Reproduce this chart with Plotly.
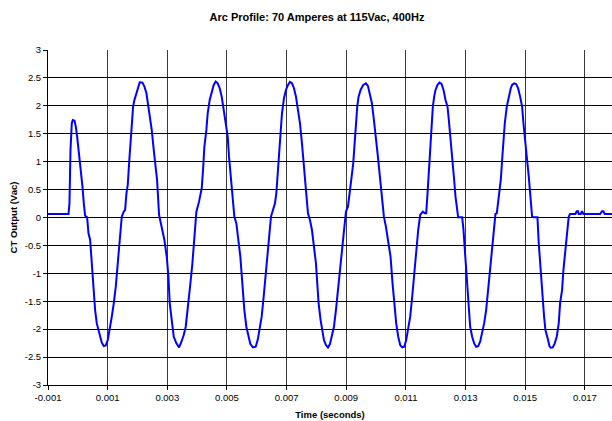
import plotly.graph_objects as go

# Time (seconds)
time_s = [
    -0.001000, -0.000313, -0.000280, -0.000246, -0.000202, -0.000168, -0.000112, -0.000068, -0.000023,
    0.000044, 0.000100, 0.000156, 0.000200, 0.000245, 0.000312, 0.000357, 0.000413, 0.000468, 0.000524,
    0.000580, 0.000636, 0.000714, 0.000803, 0.000870, 0.000937, 0.001004, 0.001071, 0.001138, 0.001205,
    0.001272, 0.001339, 0.001406, 0.001473, 0.001540, 0.001585, 0.001630, 0.001674, 0.001719, 0.001764,
    0.001808, 0.001853, 0.001898, 0.001965, 0.002032, 0.002076, 0.002166, 0.002233, 0.002300, 0.002344,
    0.002411, 0.002478, 0.002545, 0.002590, 0.002657, 0.002724, 0.002813, 0.002903, 0.002981, 0.003037,
    0.003082, 0.003149, 0.003216, 0.003305, 0.003394, 0.003461, 0.003551, 0.003618, 0.003685, 0.003774,
    0.003841, 0.003908, 0.003975, 0.004064, 0.004154, 0.004198, 0.004243, 0.004310, 0.004354, 0.004422,
    0.004489, 0.004556, 0.004623, 0.004690, 0.004757, 0.004824, 0.004891, 0.004958, 0.005025, 0.005069,
    0.005136, 0.005203, 0.005248, 0.005315, 0.005382, 0.005449, 0.005516, 0.005583, 0.005650, 0.005717,
    0.005784, 0.005873, 0.005963, 0.006030, 0.006097, 0.006164, 0.006231, 0.006298, 0.006365, 0.006432,
    0.006476, 0.006543, 0.006610, 0.006655, 0.006699, 0.006744, 0.006789,
    0.006845, 0.006912, 0.006979, 0.007046, 0.007113, 0.007180, 0.007247, 0.007314, 0.007381, 0.007448,
    0.007515, 0.007582, 0.007649, 0.007716, 0.007783, 0.007850, 0.007917, 0.007984, 0.008028, 0.008073,
    0.008140, 0.008185, 0.008252, 0.008319, 0.008386, 0.008453, 0.008520, 0.008587, 0.008654, 0.008721,
    0.008788, 0.008855, 0.008922, 0.008989, 0.009056, 0.009101, 0.009167, 0.009234, 0.009279, 0.009324,
    0.009368, 0.009413, 0.009480, 0.009570, 0.009659, 0.009726, 0.009793, 0.009860, 0.009927, 0.009994,
    0.010061, 0.010128, 0.010195, 0.010262, 0.010329, 0.010418, 0.010485, 0.010552, 0.010641,
    0.010675, 0.010742, 0.010809, 0.010876, 0.010943, 0.011010, 0.011077, 0.011144, 0.011211, 0.011278,
    0.011345, 0.011412, 0.011479, 0.011524, 0.011568, 0.011635, 0.011680, 0.011725, 0.011769, 0.011814,
    0.011859, 0.011903, 0.011948, 0.011993, 0.012060, 0.012127, 0.012194, 0.012261, 0.012328, 0.012395,
    0.012439, 0.012484, 0.012529, 0.012573, 0.012618, 0.012663, 0.012707, 0.012752, 0.012886, 0.012931,
    0.012976, 0.013020, 0.013065, 0.013110, 0.013154, 0.013221, 0.013288, 0.013355, 0.013422, 0.013489,
    0.013556, 0.013623, 0.013690, 0.013757, 0.013824, 0.013891, 0.013958, 0.014003, 0.014047, 0.014092,
    0.014137, 0.014181, 0.014226, 0.014271, 0.014315, 0.014382, 0.014449, 0.014494,
    0.014516, 0.014561, 0.014628, 0.014695, 0.014762, 0.014829, 0.014896, 0.014941, 0.015008, 0.015052,
    0.015119, 0.015164, 0.015231, 0.015276, 0.015410, 0.015454, 0.015499, 0.015544, 0.015588, 0.015633,
    0.015678, 0.015722, 0.015767, 0.015812, 0.015856, 0.015923, 0.015990, 0.016057, 0.016124, 0.016169,
    0.016236, 0.016281, 0.016348, 0.016392, 0.016459, 0.016504, 0.016683, 0.016727, 0.016772, 0.016794,
    0.016861, 0.016906, 0.016951, 0.017509, 0.017576, 0.017621, 0.017665, 0.018000,
]

# CT output (Vac)
ct_output_vac = [
    0.063, 0.063, 0.254, 1.210, 1.688, 1.747, 1.735, 1.628, 1.449,
    1.150, 0.911, 0.553, 0.254, 0.033, 0.003, -0.284, -0.403, -0.821, -1.239,
    -1.658, -1.897, -2.076, -2.243, -2.303, -2.291, -2.195, -2.016, -1.777, -1.538,
    -1.239, -0.821, -0.343, 0.015, 0.105, 0.134, 0.433, 0.582, 0.971, 1.329,
    1.688, 1.986, 2.106, 2.225, 2.357, 2.422, 2.416, 2.345, 2.225, 2.076,
    1.867, 1.568, 1.210, 0.971, 0.672, 0.045, -0.164, -0.403, -0.702, -1.060,
    -1.538, -1.897, -2.136, -2.255, -2.327, -2.243, -2.106, -1.956, -1.658, -1.180,
    -0.821, -0.343, 0.105, 0.284, 0.523, 0.851, 1.269, 1.568, 1.867, 2.106,
    2.225, 2.375, 2.434, 2.404, 2.315, 2.165, 1.927, 1.688, 1.449, 1.090,
    0.732, 0.254, 0.015, -0.105, -0.403, -0.702, -1.180, -1.658, -1.956, -2.136,
    -2.267, -2.327, -2.315, -2.195, -2.016, -1.777, -1.419, -1.001, -0.583, -0.164,
    0.015, 0.134, 0.254, 0.433, 0.792, 1.150, 1.478,
    1.867, 2.136, 2.285, 2.375, 2.428, 2.404, 2.315, 2.165, 1.927, 1.688,
    1.329, 0.911, 0.553, 0.075, -0.045, -0.224, -0.523, -0.821, -1.180, -1.538,
    -1.837, -2.016, -2.195, -2.285, -2.327, -2.267, -2.136, -1.956, -1.658, -1.299,
    -0.941, -0.583, -0.224, 0.105, 0.194, 0.433, 0.672, 0.971, 1.329, 1.688,
    1.986, 2.165, 2.285, 2.375, 2.404, 2.357, 2.225, 2.046, 1.747, 1.449,
    1.090, 0.732, 0.373, 0.015, -0.164, -0.463, -0.702, -1.180, -1.777,
    -1.897, -2.136, -2.285, -2.327, -2.315, -2.195, -2.016, -1.777, -1.419, -1.001,
    -0.583, -0.224, 0.045, 0.087, 0.105, 0.075, 0.075, 0.433, 0.851, 1.269,
    1.628, 1.986, 2.165, 2.285, 2.375, 2.416, 2.392, 2.285, 2.106, 1.986,
    1.747, 1.508, 1.269, 0.971, 0.672, 0.373, 0.134, 0.003, 0.003, -0.224,
    -0.583, -0.941, -1.299, -1.658, -1.956, -2.136, -2.255, -2.315, -2.303, -2.225,
    -2.076, -1.897, -1.658, -1.299, -0.881, -0.463, -0.105, 0.063, 0.075, 0.254,
    0.433, 0.672, 1.030, 1.389, 1.688, 1.986, 2.165, 2.285,
    2.315, 2.375, 2.404, 2.392, 2.315, 2.165, 1.986, 1.688, 1.389, 1.090,
    0.732, 0.433, 0.015, 0.003, 0.003, -0.463, -0.821, -1.180, -1.538, -1.777,
    -2.016, -2.136, -2.195, -2.303, -2.333, -2.327, -2.255, -2.136, -1.897, -1.538,
    -1.299, -0.941, -0.583, -0.284, 0.015, 0.063, 0.063, 0.111, 0.111, 0.063,
    0.063, 0.111, 0.063, 0.063, 0.111, 0.111, 0.063, 0.063,
]

x_tick_vals = [-0.001, 0.001, 0.003, 0.005, 0.007, 0.009, 0.011, 0.013, 0.015, 0.017]
x_tick_text = ["-0.001", "0.001", "0.003", "0.005", "0.007", "0.009", "0.011", "0.013", "0.015", "0.017"]
y_tick_vals = [-3, -2.5, -2, -1.5, -1, -0.5, 0, 0.5, 1, 1.5, 2, 2.5, 3]
y_tick_text = ["-3", "-2.5", "-2", "-1.5", "-1", "-0.5", "0", "0.5", "1", "1.5", "2", "2.5", "3"]

FONT = "Liberation Sans, Arial, sans-serif"

fig = go.Figure()
fig.add_trace(go.Scatter(
    x=time_s, y=ct_output_vac, mode="lines",
    line=dict(color="#0000FF", width=2),
    showlegend=False, hoverinfo="skip",
))

fig.update_layout(
    width=612, height=421,
    margin=dict(l=48, r=0, t=50, b=36),
    paper_bgcolor="white", plot_bgcolor="white",
    font=dict(family=FONT, size=9.5, color="black"),
    title=dict(text="<b>Arc Profile: 70 Amperes at 115Vac, 400Hz</b>",
               font=dict(family=FONT, size=11, color="black"),
               x=317 / 612, xanchor="center", xref="container",
               y=1 - 17 / 421, yanchor="middle", yref="container"),
    xaxis=dict(
        range=[-0.001, 0.01791], autorange=False,
        tickmode="array", tickvals=x_tick_vals, ticktext=x_tick_text,
        ticks="outside", ticklen=4, tickcolor="black", tickwidth=1,
        showline=True, linecolor="black", linewidth=1,
        showgrid=True, gridcolor="#3a3a3a", gridwidth=1.4,
        zeroline=False, automargin=False,
        title=dict(text="<b>Time (seconds)</b>", font=dict(family=FONT, size=9.5), standoff=8),
    ),
    yaxis=dict(
        range=[-3, 3], autorange=False,
        tickmode="array", tickvals=y_tick_vals, ticktext=y_tick_text,
        ticks="outside", ticklen=4, tickcolor="black", tickwidth=1,
        showline=True, linecolor="black", linewidth=1,
        showgrid=True, gridcolor="black", gridwidth=1,
        zeroline=False, automargin=False,
        title=dict(text="<b>CT Output (Vac)</b>", font=dict(family=FONT, size=9.5), standoff=5),
    ),
)

fig.write_html("out.html", config={"displayModeBar": False},
               post_script="document.body.style.margin='0';document.body.style.overflow='hidden';")
